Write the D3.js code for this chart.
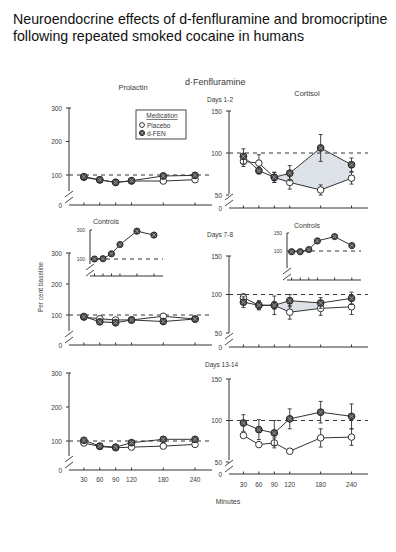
<!DOCTYPE html>
<html>
<head>
<meta charset="utf-8">
<script src="https://cdn.jsdelivr.net/npm/d3@7"></script>
<style>
    body { margin: 0; background: #fff; }
    svg text { font-family: "Liberation Sans", Arial, sans-serif; fill: #3a3a3a; }
</style>
</head>
<body>
<div id="chart"></div>
<script>
// Data (per cent of baseline)
const minutes = [30, 60, 90, 120, 180, 240];
const minuteLabels = ['30', '60', '90', '120', '180', '240'];
const prolactinTicks = [100, 200, 300];
const cortisolTicks = [50, 100, 150];

// Prolactin
const prlD12Fen = [95, 86, 78, 83, 97, 99];
const prlD12FenErr = [4, 3, 3, 4, 8, 8];
const prlD12Pla = [93, 85, 78, 82, 82, 86];
const prlD12PlaErr = [3, 3, 3, 3, 4, 6];
const prlD78Fen = [95, 78, 75, 84, 79, 87];
const prlD78FenErr = [3, 3, 3, 3, 4, 4];
const prlD78Pla = [93, 88, 84, 84, 96, 87];
const prlD78PlaErr = [3, 3, 3, 3, 4, 4];
const prlD1314Fen = [102, 85, 82, 95, 105, 105];
const prlD1314FenErr = [4, 3, 3, 4, 5, 5];
const prlD1314Pla = [94, 84, 80, 82, 85, 90];
const prlD1314PlaErr = [3, 3, 3, 3, 3, 4];
const prlControls = [100, 102, 136, 200, 292, 265];
const prlControlsErr = [0, 0, 0, 0, 0, 12];

// Cortisol
const corD12Fen = [96, 79, 71, 76, 106, 86];
const corD12FenErr = [9, 4, 6, 9, 16, 8];
const corD12Pla = [90, 88, 71, 65, 56, 70];
const corD12PlaErr = [6, 10, 6, 8, 6, 7];
const corD78Fen = [90, 86, 86, 92, 89, 95];
const corD78FenErr = [7, 6, 12, 8, 7, 8];
const corD78Pla = [96, 86, 86, 77, 82, 84];
const corD78PlaErr = [5, 5, 5, 9, 9, 10];
const corD1314Fen = [97, 89, 85, 102, 110, 105];
const corD1314FenErr = [10, 12, 15, 12, 13, 15];
const corD1314Pla = [82, 71, 73, 63, 79, 80];
const corD1314PlaErr = [2, 2, 6, 2, 11, 10];
const corControls = [98, 98, 104, 128, 140, 115];
const corControlsErr = [0, 0, 3, 4, 3, 5];

const ink = '#333';
const shade = '#dde2e8';

const svg = d3.select('#chart')
    .append('svg')
    .attr('width', 396)
    .attr('height', 552);

// Title
const title = svg.append('text').attr('x', 13).attr('font-size', 14.2).style('fill', '#111');
title.append('tspan').attr('x', 13).attr('y', 24).text('Neuroendocrine effects of d-fenfluramine and bromocriptine');
title.append('tspan').attr('x', 13).attr('y', 41).text('following repeated smoked cocaine in humans');

function label(x, y, txt, size, anchor = 'start') {
    return svg.append('text')
        .attr('x', x).attr('y', y)
        .attr('font-size', size)
        .attr('text-anchor', anchor)
        .text(txt);
}

function fenMarker(g, cx, cy, r) {
    g.append('circle').attr('cx', cx).attr('cy', cy).attr('r', r)
        .attr('fill', '#4a4a4a').attr('stroke', '#222').attr('stroke-width', 0.9);
    const d = r * 0.6;
    g.append('path')
        .attr('d', `M${cx - d},${cy - d}L${cx + d},${cy + d}M${cx - d},${cy + d}L${cx + d},${cy - d}`)
        .attr('stroke', '#a0a0a0').attr('stroke-width', 0.8);
}

function plaMarker(g, cx, cy, r) {
    g.append('circle').attr('cx', cx).attr('cy', cy).attr('r', r)
        .attr('fill', '#fff').attr('stroke', ink).attr('stroke-width', 1);
}

// Broken y axis + x axis
function drawFrame(g, x, y, axisX, axisY, ticks, topVal, opts) {
    const yTop = y(topVal);
    const yb = axisY - (opts.breakGap || 14);
    g.append('line').attr('x1', axisX).attr('x2', axisX).attr('y1', yTop).attr('y2', yb)
        .attr('stroke', ink).attr('stroke-width', 1);
    g.append('line').attr('x1', axisX).attr('x2', axisX + 2).attr('y1', yTop).attr('y2', yTop)
        .attr('stroke', ink);
    [yb + 3, yb + 9].forEach(s => {
        g.append('line').attr('x1', axisX - 4).attr('y1', s + 3).attr('x2', axisX + 4).attr('y2', s - 3)
            .attr('stroke', ink).attr('stroke-width', 0.9);
    });
    g.append('line').attr('x1', axisX).attr('x2', x.range()[1]).attr('y1', axisY).attr('y2', axisY)
        .attr('stroke', ink).attr('stroke-width', 1);
    // y ticks
    ticks.forEach(t => {
        g.append('line').attr('x1', axisX - 3).attr('x2', axisX).attr('y1', y(t)).attr('y2', y(t))
            .attr('stroke', ink);
        if (opts.tickLabels !== false) {
            g.append('text').attr('x', axisX - 7).attr('y', y(t) + 2.5)
                .attr('font-size', opts.fs || 6.5).attr('text-anchor', 'end').text(t);
        }
    });
    if (opts.zero !== false) {
        g.append('text').attr('x', axisX - 7).attr('y', axisY + 2.5)
            .attr('font-size', opts.fs || 6.5).attr('text-anchor', 'end').text('0');
    }
    // x ticks
    minutes.forEach(m => {
        g.append('line').attr('x1', x(m)).attr('x2', x(m)).attr('y1', axisY).attr('y2', axisY - 2.5)
            .attr('stroke', ink);
    });
    // baseline
    g.append('line').attr('x1', axisX).attr('x2', x.range()[1]).attr('y1', y(100)).attr('y2', y(100))
        .attr('stroke', ink).attr('stroke-width', 1).attr('stroke-dasharray', '4,4');
}

function drawSeries(g, x, y, vals, errs, kind, r) {
    const line = d3.line().x((d, i) => x(minutes[i])).y(d => y(d));
    g.append('path').attr('d', line(vals)).attr('fill', 'none').attr('stroke', ink).attr('stroke-width', 1);
    vals.forEach((v, i) => {
        const e = errs[i];
        if (e > 0) {
            const cx = x(minutes[i]);
            g.append('path')
                .attr('d', `M${cx},${y(v - e)}V${y(v + e)}M${cx - 2},${y(v + e)}H${cx + 2}M${cx - 2},${y(v - e)}H${cx + 2}`)
                .attr('stroke', ink).attr('stroke-width', 0.9).attr('fill', 'none');
        }
    });
    vals.forEach((v, i) => {
        if (kind === 'fen') fenMarker(g, x(minutes[i]), y(v), r);
        else plaMarker(g, x(minutes[i]), y(v), r);
    });
}

function drawShade(g, x, y, a, b, i0, i1) {
    const idx = d3.range(i0, i1 + 1);
    const area = d3.area()
        .x(i => x(minutes[i]))
        .y0(i => y(a[i]))
        .y1(i => y(b[i]));
    g.append('path').attr('d', area(idx)).attr('fill', shade);
}

function panel(cfg) {
    const g = svg.append('g');
    const x = d3.scaleLinear().domain([0, 272]).range([cfg.axisX - 1, cfg.xEnd]);
    const y = d3.scaleLinear().domain(cfg.yDomain).range(cfg.yRange);
    if (cfg.shade) drawShade(g, x, y, cfg.fen, cfg.pla, cfg.shade[0], cfg.shade[1]);
    drawFrame(g, x, y, cfg.axisX, cfg.axisY, cfg.ticks, cfg.ticks[cfg.ticks.length - 1], {});
    drawSeries(g, x, y, cfg.pla, cfg.plaErr, 'pla', 3.3);
    drawSeries(g, x, y, cfg.fen, cfg.fenErr, 'fen', 3.4);
    if (cfg.xLabels) {
        minutes.forEach((m, i) => {
            g.append('text').attr('x', x(m)).attr('y', cfg.axisY + cfg.xLabelDy)
                .attr('font-size', 6.5).attr('text-anchor', 'middle').text(minuteLabels[i]);
        });
    }
}

function inset(cfg) {
    const g = svg.append('g');
    const x = d3.scaleLinear().domain([0, 272]).range([cfg.axisX - 4, cfg.xEnd]);
    const y = d3.scaleLinear().domain(cfg.yDomain).range(cfg.yRange);
    drawFrame(g, x, y, cfg.axisX, cfg.axisY, [], cfg.yDomain[1], { zero: false, breakGap: 12 });
    cfg.yDomain.forEach(t => {
        g.append('text').attr('x', cfg.axisX - 5).attr('y', y(t) + 2)
            .attr('font-size', 5).attr('text-anchor', 'end').text(t);
    });
    drawSeries(g, x, y, cfg.vals, cfg.errs, 'fen', 3.1);
    label(cfg.titleX, cfg.titleY, 'Controls', 7);
}

// Prolactin column
panel({ axisX: 69, xEnd: 212, axisY: 205, yDomain: [100, 300], yRange: [175, 108], ticks: prolactinTicks,
    fen: prlD12Fen, fenErr: prlD12FenErr, pla: prlD12Pla, plaErr: prlD12PlaErr });
panel({ axisX: 69, xEnd: 212, axisY: 345, yDomain: [100, 300], yRange: [315, 253], ticks: prolactinTicks,
    fen: prlD78Fen, fenErr: prlD78FenErr, pla: prlD78Pla, plaErr: prlD78PlaErr, shade: [0, 2] });
panel({ axisX: 69, xEnd: 212, axisY: 470, yDomain: [100, 300], yRange: [441, 373], ticks: prolactinTicks,
    fen: prlD1314Fen, fenErr: prlD1314FenErr, pla: prlD1314Pla, plaErr: prlD1314PlaErr,
    xLabels: true, xLabelDy: 12 });

// Cortisol column
panel({ axisX: 229, xEnd: 368, axisY: 208, yDomain: [50, 150], yRange: [195, 111], ticks: cortisolTicks,
    fen: corD12Fen, fenErr: corD12FenErr, pla: corD12Pla, plaErr: corD12PlaErr, shade: [2, 5] });
panel({ axisX: 229, xEnd: 368, axisY: 347, yDomain: [50, 150], yRange: [333, 256], ticks: cortisolTicks,
    fen: corD78Fen, fenErr: corD78FenErr, pla: corD78Pla, plaErr: corD78PlaErr, shade: [2, 4] });
panel({ axisX: 229, xEnd: 368, axisY: 474, yDomain: [50, 150], yRange: [462, 379], ticks: cortisolTicks,
    fen: corD1314Fen, fenErr: corD1314FenErr, pla: corD1314Pla, plaErr: corD1314PlaErr,
    xLabels: true, xLabelDy: 13 });

// Control insets
inset({ axisX: 90, xEnd: 163, axisY: 276, yDomain: [100, 300], yRange: [259, 230],
    vals: prlControls, errs: prlControlsErr, titleX: 93, titleY: 224 });
inset({ axisX: 287, xEnd: 361, axisY: 280, yDomain: [100, 150], yRange: [251, 233],
    vals: corControls, errs: corControlsErr, titleX: 294, titleY: 228 });

// Headings
label(185, 85, 'd·Fenfluramine', 9);
label(133, 90, 'Prolactin', 7.5, 'middle');
label(307, 96, 'Cortisol', 7.5, 'middle');
label(207, 102, 'Days 1-2', 6.5);
label(207, 237, 'Days 7-8', 6.5);
label(205, 367, 'Days 13-14', 6.5);
label(228, 504, 'Minutes', 7, 'middle');
svg.append('text')
    .attr('transform', 'translate(43,287) rotate(-90)')
    .attr('font-size', 6.5).attr('text-anchor', 'middle')
    .text('Per cent baseline');

// Legend
const lg = svg.append('g');
lg.append('rect').attr('x', 136).attr('y', 110).attr('width', 50).attr('height', 29)
    .attr('fill', '#fff').attr('stroke', ink).attr('stroke-width', 0.9);
lg.append('text').attr('x', 162).attr('y', 118).attr('font-size', 6.5).attr('text-anchor', 'middle')
    .attr('text-decoration', 'underline').text('Medication');
plaMarker(lg, 142, 125, 2.4);
lg.append('text').attr('x', 147).attr('y', 127.5).attr('font-size', 6.5).text('Placebo');
fenMarker(lg, 142, 133, 2.6);
lg.append('text').attr('x', 147).attr('y', 135.5).attr('font-size', 6.5).text('d-FEN');
</script>
</body>
</html>
